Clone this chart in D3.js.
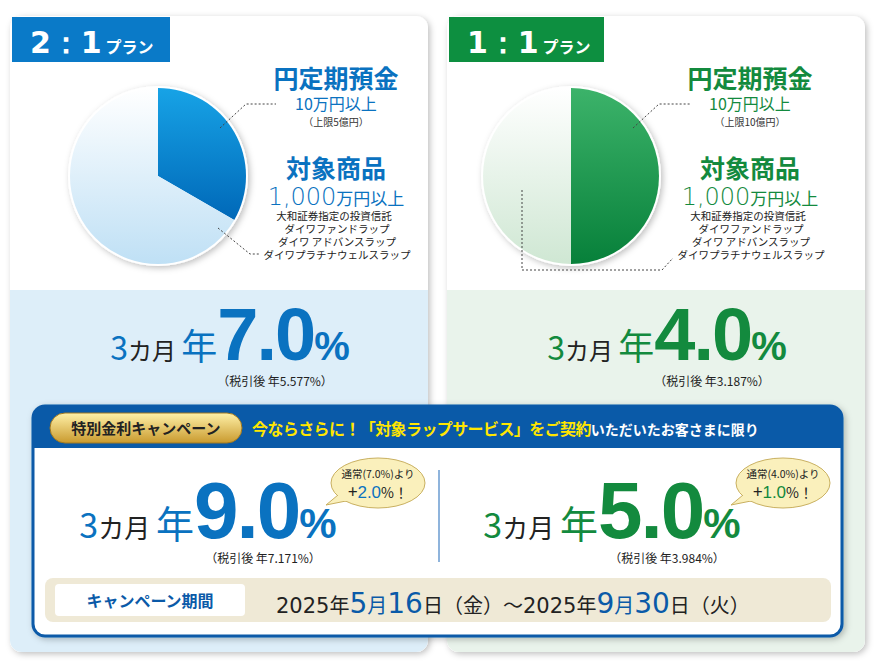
<!DOCTYPE html>
<html><head><meta charset="utf-8">
<script src="https://cdn.jsdelivr.net/npm/d3@7"></script>
<style>body{margin:0;background:#fff}svg{display:block}text{font-family:"Noto Sans CJK JP","Noto Sans",sans-serif}</style>
</head><body><svg id="c" width="880" height="670"></svg>
<script>
const plans = ["2：1", "1：1"];
const sliceNames = ["円定期預金", "対象商品"];
const shares21 = [1, 2];
const shares11 = [1, 1];
const baseRates = ["7.0", "4.0"];
const afterTaxBase = ["5.577", "3.187"];
const campaignRates = ["9.0", "5.0"];
const afterTaxCampaign = ["7.171", "3.984"];
const bonus = ["2.0", "1.0"];
const caps = ["（上限5億円）", "（上限10億円）"];
const products = ["大和証券指定の投資信託", "ダイワファンドラップ", "ダイワ アドバンスラップ", "ダイワプラチナウェルスラップ"];

const svg = d3.select("#c");
const defs = svg.append("defs");
function lg(id, c1, c2){const g=defs.append("linearGradient").attr("id",id).attr("x1",0).attr("y1",0).attr("x2",0).attr("y2",1);
 g.append("stop").attr("offset",0).attr("stop-color",c1);g.append("stop").attr("offset",1).attr("stop-color",c2);}
lg("bDark","#17a3e6","#0068b8");lg("bLight","#ffffff","#bfe0f5");
lg("gDark","#3cb36a","#07803a");lg("gLight","#ffffff","#cfe7d3");
lg("gold","#fff1a8","#c99a2e");
const f=defs.append("filter").attr("id","sh").attr("x","-10%").attr("y","-10%").attr("width","120%").attr("height","120%");
f.append("feDropShadow").attr("dx",2).attr("dy",2).attr("stdDeviation",3).attr("flood-color","#000").attr("flood-opacity",0.25);

const theme=[{c:"#0a72c0",tab:"#0a7ac8",bg:"#ddeef9",dark:"url(#bDark)",light:"url(#bLight)",shares:shares21,pcx:148},
             {c:"#138a3e",tab:"#0d8f40",bg:"#e9f3eb",dark:"url(#gDark)",light:"url(#gLight)",shares:shares11,pcx:124}];

function seg(g,x,y,parts,anchor){
 const t=g.append("text").attr("x",x).attr("y",y);
 parts.forEach(p=>{const s=t.append("tspan").text(p[0]).attr("font-size",p[1]).attr("fill",p[2]||"#222")
   .attr("font-weight",p[3]||400).style("font-family",p[4]||null); if(p[5]!=null) s.attr("letter-spacing",p[5]);});
 if(anchor==="middle"){const w=t.node().getComputedTextLength();t.attr("x",x-w/2);}
 return t;
}
const NUM='"DejaVu Sans","Liberation Sans",sans-serif';
const BIG='"Liberation Sans",Arial,sans-serif';

plans.forEach((p,i)=>{
 const T=theme[i], ox=10+i*437;
 const g=svg.append("g");
 g.append("rect").attr("x",ox).attr("y",16).attr("width",418).attr("height",636).attr("rx",12).attr("fill","#fff").attr("filter","url(#sh)");
 g.append("path").attr("d",`M${ox},290 H${ox+418} V640 a12,12 0 0 1 -12,12 H${ox+12} a12,12 0 0 1 -12,-12 Z`).attr("fill",T.bg);
 g.append("rect").attr("x",ox+2).attr("y",17).attr("width",i?155:158).attr("height",45).attr("fill",T.tab);
 seg(g,ox+20,53,[[p,30,"#fff",700,NUM],[" プラン",16,"#fff",700]]);
 const cx=ox+T.pcx, cy=176, r=88;
 const pie=d3.pie().sort(null).value(d=>d)(T.shares);
 const arc=d3.arc().innerRadius(0).outerRadius(r);
 const pg=g.append("g").attr("transform",`translate(${cx},${cy})`);
 pg.append("circle").attr("r",r+2).attr("fill","#fff").attr("filter","url(#sh)");
 pg.selectAll("path").data(pie).join("path").attr("d",arc).attr("fill",(d,k)=>k?T.light:T.dark);
 const lx=ox+(i?303:326);
 seg(g,lx,88,[[sliceNames[0],25,T.c,700]],"middle");
 seg(g,lx,110,[["10万円以上",16,T.c,400]],"middle");
 seg(g,lx,126,[[caps[i],10,"#333",400]],"middle");
 seg(g,lx,178,[[sliceNames[1],25,T.c,700]],"middle");
 seg(g,lx,205,[["1,000",24,T.c,300,NUM],["万円以上",17,T.c,400]],"middle");
 products.forEach((s,k)=>seg(g,lx+(k?1:-2),220+k*13,[[s,10.5,"#222",400]],"middle"));
 const ls=g.append("g").attr("fill","none").attr("stroke","#444").attr("stroke-dasharray","2,2").attr("stroke-width",1);
 if(i==0){ls.append("path").attr("d",`M${ox+210},128 L${ox+236},104 H${ox+266}`);
  ls.append("path").attr("d",`M${ox+208},228 L${ox+240},254 H${ox+250}`);}
 else {ls.append("path").attr("d",`M${ox+186},128 L${ox+212},104 H${ox+244}`);
  ls.append("path").attr("d",`M${ox+75},190 V270 H${ox+215} L${ox+226},258`);}
 seg(g,ox+(i?220:220),360,[["3",32,T.c,400],["カ月 ",24,"#222",400],["年",36,T.c,400],[baseRates[i],74,T.c,700,BIG,-2],["%",40,T.c,700,BIG]],"middle");
 seg(g,ox+265,386,[["（税引後 年"+afterTaxBase[i]+"%）",12,"#222",400]],"middle");
});

const cb=svg.append("g");
cb.append("rect").attr("x",33).attr("y",406).attr("width",809).attr("height",230).attr("rx",12).attr("fill","#fff").attr("stroke","#0a5aa8").attr("stroke-width",3).attr("filter","url(#sh)");
cb.append("path").attr("d","M33,448 V418 a12,12 0 0 1 12,-12 H830 a12,12 0 0 1 12,12 V448 Z").attr("fill","#0a5aa8");
cb.append("rect").attr("x",50).attr("y",413).attr("width",192).attr("height",30).attr("rx",15).attr("fill","url(#gold)").attr("stroke","#a07820");
seg(cb,146,434,[["特別金利キャンペーン",15,"#222",700]],"middle");
seg(cb,252,435,[["今ならさらに！「対象ラップサービス」をご契約",16,"#ffe600",700,null,-0.6],["いただいたお客さまに限り",14,"#fff",700]]);
cb.append("line").attr("x1",439).attr("x2",439).attr("y1",470).attr("y2",562).attr("stroke","#6a9bd0").attr("stroke-width",1.5);
campaignRates.forEach((v,i)=>{
 const T=theme[i], cxm=i?612:208;
 seg(cb,cxm,538,[["3",34,T.c,400],["カ月 ",26,"#222",400],["年",38,T.c,400],[v,80,T.c,700,BIG,-2],["%",42,T.c,700,BIG]],"middle");
 seg(cb,cxm+55,563,[["（税引後 年"+afterTaxCampaign[i]+"%）",12,"#222",400]],"middle");
 const bx=i?783:378, by=483;
 cb.append("path").attr("d",`M${bx-40},${by+12} L${bx-52},${by+22} L${bx-32},${by+18} Z`).attr("fill","#faf0bc").attr("stroke","#c9b060");
 cb.append("ellipse").attr("cx",bx).attr("cy",by).attr("rx",47).attr("ry",25).attr("fill","#faf0bc").attr("stroke","#c9b060");
 cb.append("rect").attr("x",bx-40).attr("y",by+8).attr("width",14).attr("height",10).attr("fill","#faf0bc");
 seg(cb,bx,by-5,[["通常("+baseRates[i]+"%)より",10.5,"#222",400]],"middle");
 seg(cb,bx,by+15,[["+",17,"#222",400],[bonus[i],17,T.c,400,BIG],["%！",14,"#222",400]],"middle");
});
cb.append("rect").attr("x",45).attr("y",578).attr("width",786).attr("height",44).attr("rx",8).attr("fill","#efe9d6");
cb.append("rect").attr("x",55).attr("y",584).attr("width",190).attr("height",32).attr("rx",4).attr("fill","#fff");
seg(cb,150,607,[["キャンペーン期間",16,"#0a5aa8",700]],"middle");
const B="#0a5aa8";
seg(cb,276,613,[["2025",21,"#222",400,NUM],["年",20,"#222"],["5",28,B,400,NUM],["月",20,B],["16",28,B,400,NUM],["日",20,"#222"],["（金）～",20,"#222"],
 ["2025",21,"#222",400,NUM],["年",20,"#222"],["9",28,B,400,NUM],["月",20,B],["30",28,B,400,NUM],["日",20,"#222"],["（火）",20,"#222"]]);
</script></body></html>
